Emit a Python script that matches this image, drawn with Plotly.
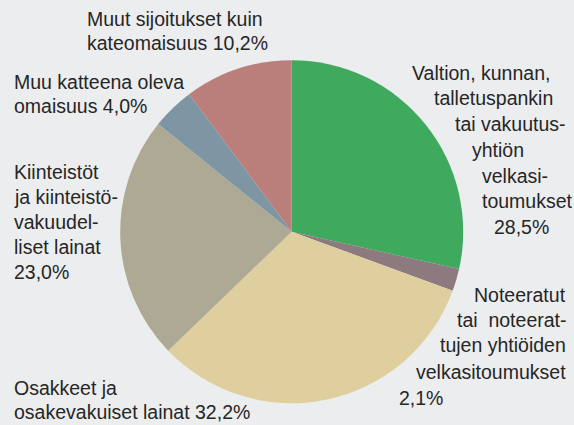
import plotly.graph_objects as go

# Data
categories = [
    "Valtion, kunnan, talletuspankin tai vakuutusyhtiön velkasitoumukset",
    "Noteeratut tai noteerattujen yhtiöiden velkasitoumukset",
    "Osakkeet ja osakevakuiset lainat",
    "Kiinteistöt ja kiinteistövakuudelliset lainat",
    "Muu katteena oleva omaisuus",
    "Muut sijoitukset kuin kateomaisuus",
]
values = [28.5, 2.1, 32.2, 23.0, 4.0, 10.2]
colors = ["#3faa5d", "#8c7a7f", "#dfcf9f", "#aea994", "#7e96a3", "#bb7f7b"]

# Label lines (text shown around the pie)
label_green = ["Valtion, kunnan,", "talletuspankin", "tai vakuutus-", "yhtiön", "velkasi-", "toumukset", "28,5%"]
label_note = ["Noteeratut", "tai  noteerat-", "tujen yhtiöiden", "velkasitoumukset"]
label_note_pct = "2,1%"
label_osak = ["Osakkeet ja", "osakevakuiset lainat 32,2%"]
label_kiint = ["Kiinteistöt", "ja kiinteistö-", "vakuudel-", "liset lainat", "23,0%"]
label_muu = ["Muu katteena oleva", "omaisuus 4,0%"]
label_muut = ["Muut sijoitukset kuin", "kateomaisuus 10,2%"]

W, H = 574, 425
BG = "#ecedef"
FONT = "Liberation Sans"
FS = 19.5
TXT = "#262626"

# pie geometry (pixels)
cx, cy, r = 291.7, 231.7, 171.5

fig = go.Figure(go.Pie(
    labels=categories,
    values=values,
    sort=False,
    direction="clockwise",
    rotation=0,
    marker=dict(colors=colors, line=dict(width=0)),
    textinfo="none",
    hoverinfo="label+percent",
    showlegend=False,
    domain=dict(x=[(cx - r) / W, (cx + r) / W], y=[1 - (cy + r) / H, 1 - (cy - r) / H]),
))

annotations = []

def add_lines(lines, xs, ys, anchor):
    for t, x, y in zip(lines, xs, ys):
        annotations.append(dict(
            text=t, x=x / W, y=1 - y / H, xref="paper", yref="paper",
            xanchor=anchor, yanchor="middle", showarrow=False,
            font=dict(family=FONT, size=FS, color=TXT),
        ))

add_lines(label_green, [410, 432, 453, 470, 480, 480, 492], [73, 98, 124, 150, 176, 201, 227], "left")
add_lines(label_note, [568, 568, 568, 568], [295, 320, 345, 372], "right")
add_lines([label_note_pct], [397], [398], "left")
add_lines(label_osak, [12, 12], [388, 412], "left")
add_lines(label_kiint, [12, 12, 12, 12, 12], [172, 197, 222, 247, 272], "left")
add_lines(label_muu, [12, 12], [82, 106], "left")
add_lines(label_muut, [85, 85], [19, 43], "left")

fig.update_layout(
    width=W, height=H,
    margin=dict(l=0, r=0, t=0, b=0),
    paper_bgcolor=BG, plot_bgcolor=BG,
    annotations=annotations,
)

fig.write_html(
    "out.html",
    config={"displayModeBar": False},
    post_script="document.body.style.margin='0';document.body.style.overflow='hidden';document.body.style.background='" + BG + "';",
)
